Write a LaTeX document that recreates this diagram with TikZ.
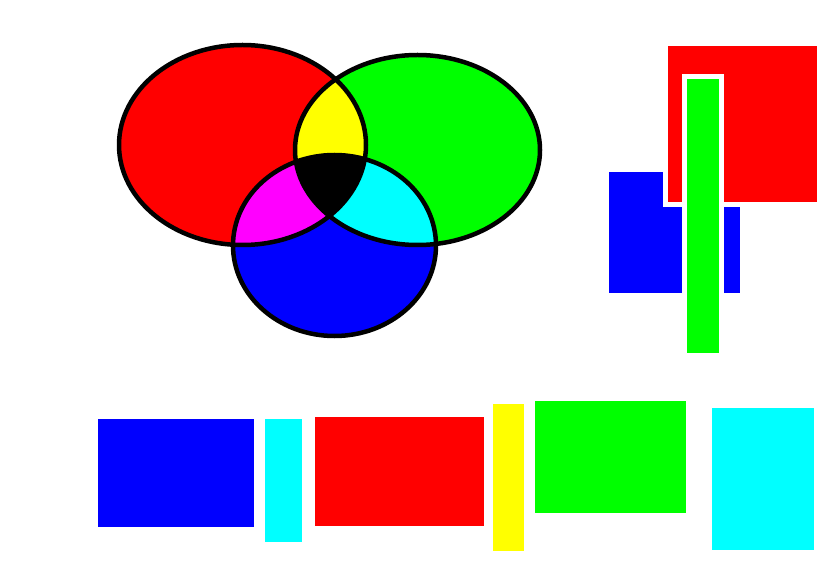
\documentclass[tikz,border=0pt]{standalone}
\definecolor{pr}{RGB}{255,0,0}
\definecolor{pg}{RGB}{0,255,0}
\definecolor{pb}{RGB}{0,0,255}
\definecolor{py}{RGB}{255,255,0}
\definecolor{pm}{RGB}{255,0,255}
\definecolor{pc}{RGB}{0,255,255}
\begin{document}
\begin{tikzpicture}[x=1pt,y=-1pt,
  outline/.style={draw=black,line width=4.5pt},
  halo/.style={fill=white}]
\useasboundingbox[fill=white] (0,0) rectangle (840,585);
% Venn diagram
\def\redE{(242.5,145) ellipse [x radius=123.5pt, y radius=100pt]}
\def\greenE{(417.5,150) ellipse [x radius=122.5pt, y radius=95pt]}
\def\blueE{(334.5,245.5) ellipse [x radius=101.5pt, y radius=90.5pt]}
\fill[pr] \redE;
\fill[pg] \greenE;
\fill[pb] \blueE;
\begin{scope}
  \clip \redE;
  \fill[py] \greenE;
  \fill[pm] \blueE;
\end{scope}
\begin{scope}
  \clip \greenE;
  \fill[pc] \blueE;
\end{scope}
\begin{scope}
  \clip \redE;
  \clip \greenE;
  \fill[black] \blueE;
\end{scope}
\draw[outline] \redE;
\draw[outline] \greenE;
\draw[outline] \blueE;
% top-right overlapping rectangles
\fill[pb] (609,172) rectangle (740,293);
\fill[halo] (663,41) rectangle (822,207);
\fill[pr] (668,46) rectangle (817,202);
\fill[halo] (682,74) rectangle (724,358);
\fill[pg] (687,79) rectangle (719,353);
% bottom row of rectangles
\fill[pb] (98,419) rectangle (254,527);
\fill[pc] (265,419) rectangle (302,542);
\fill[pr] (315,417) rectangle (484,526);
\fill[py] (493,404) rectangle (524,551);
\fill[pg] (535,401) rectangle (686,513);
\fill[pc] (712,408) rectangle (814,550);
\end{tikzpicture}
\end{document}
